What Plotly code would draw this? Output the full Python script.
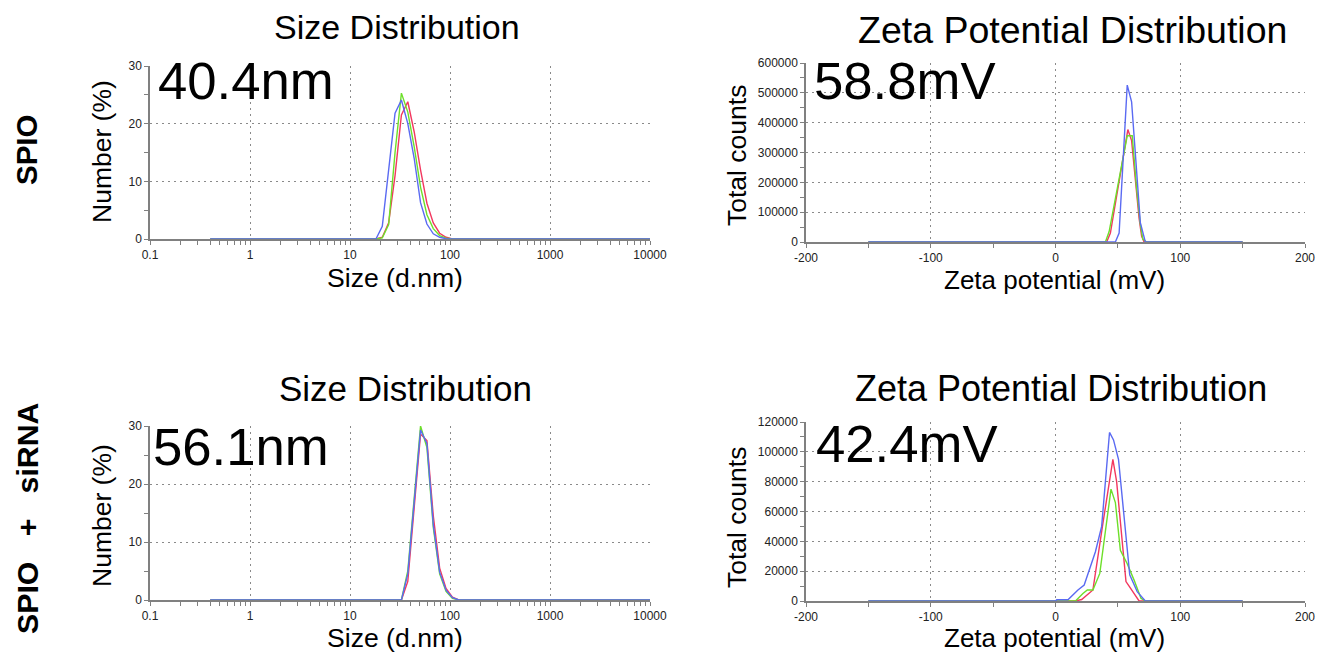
import plotly.graph_objects as go

W, H = 1334, 660
OFF = 8  # page margin offset of the rendered figure

# ---------------- data ----------------
# SPIO size distribution (Number %)
spio_size_bins = [0.4, 15.69, 18.17, 21.04, 24.36, 28.21, 32.67, 37.84, 43.82, 50.75,
                  58.77, 68.06, 78.82, 91.28, 105.7, 122.4, 10000]
spio_size_red = [0, 0, 0, 0.3, 2.8, 11, 21.5, 23.8, 18.6, 12, 6.2, 2.8, 1.0, 0.3, 0, 0, 0]
spio_size_green = [0, 0, 0, 0.2, 2.5, 15, 25.3, 22, 16, 9, 4.2, 1.8, 0.6, 0.15, 0, 0, 0]
spio_size_blue = [0, 0, 0, 2.2, 12, 21.8, 24.1, 20, 14, 6.3, 2.6, 0.9, 0.3, 0.05, 0, 0, 0]

# SPIO + siRNA size distribution (Number %)
sirna_size_bins = [0.4, 28.21, 32.67, 37.84, 43.82, 50.75, 58.77, 68.06, 78.82, 91.28,
                   105.7, 122.4, 10000]
sirna_size_red = [0, 0, 0, 3.2, 16.5, 28.6, 27.5, 14.5, 5.5, 2.0, 0.5, 0, 0]
sirna_size_green = [0, 0, 0, 5.0, 18, 30, 26.3, 12.5, 4.5, 1.5, 0.3, 0, 0]
sirna_size_blue = [0, 0, 0, 4.5, 17.3, 29.3, 27, 13, 4.8, 1.7, 0.4, 0, 0]

# SPIO zeta potential (Total counts)
spio_zeta_red_x = [-150, 41, 44, 58, 61, 64, 67, 69, 71, 150]
spio_zeta_red_y = [0, 0, 30000, 377000, 340000, 200000, 80000, 20000, 0, 0]
spio_zeta_green_x = [-150, 40, 43, 57.5, 61.5, 65, 68, 70, 73, 150]
spio_zeta_green_y = [0, 0, 35000, 356000, 356000, 180000, 60000, 10000, 0, 0]
spio_zeta_blue_x = [-150, 48, 51, 57.5, 61, 68, 72, 150]
spio_zeta_blue_y = [0, 0, 30000, 526000, 470000, 65000, 0, 0]

# SPIO + siRNA zeta potential (Total counts)
sirna_zeta_red_x = [-150, 16, 21, 25, 30, 38, 46, 49, 56.5, 59, 67, 150]
sirna_zeta_red_y = [0, 0, 1000, 4000, 7400, 52000, 95000, 80000, 13000, 10000, 0, 0]
sirna_zeta_green_x = [-150, 0, 16, 22, 25.5, 30, 35.5, 44.5, 48, 52, 57.5, 63, 68.5, 72, 150]
sirna_zeta_green_y = [0, 0, 0, 5000, 7400, 7400, 18500, 75000, 66000, 34000, 25000, 14000, 1800, 0, 0]
sirna_zeta_blue_x = [-150, 0, 1, 10, 18, 23, 32, 37, 43.3, 46.5, 50.5, 55, 59.5, 65.5, 72, 150]
sirna_zeta_blue_y = [0, 0, 800, 800, 7400, 10700, 33000, 50000, 113000, 108000, 95000, 58000,
                     17500, 6300, 0, 0]

size_tickvals = [0.1, 1, 10, 100, 1000, 10000]
size_ticktext = ["0.1", "1", "10", "100", "1000", "10000"]
zeta_tickvals = [-200, -100, 0, 100, 200]
zeta_ticktext = ["-200", "-100", "0", "100", "200"]

row_labels = ["SPIO", "SPIO\u00a0\u00a0\u00a0+\u00a0\u00a0\u00a0siRNA"]
size_labels = ["40.4nm", "56.1nm"]
zeta_labels = ["58.8mV", "42.4mV"]

RED, GREEN, BLUE = "#f2385f", "#6ddf2a", "#5a6af2"
FONT = "Liberation Sans, Arial, sans-serif"

# ---------------- figure ----------------
fig = go.Figure()

def add_set(xs, ys, xa, ya):
    for (x, y), c in zip(zip(xs, ys), [RED, GREEN, BLUE]):
        fig.add_trace(go.Scatter(x=x, y=y, mode="lines", line=dict(color=c, width=1.4),
                                 xaxis=xa, yaxis=ya, showlegend=False, hoverinfo="x+y"))

add_set([spio_size_bins] * 3, [spio_size_red, spio_size_green, spio_size_blue], "x", "y")
add_set([spio_zeta_red_x, spio_zeta_green_x, spio_zeta_blue_x],
        [spio_zeta_red_y, spio_zeta_green_y, spio_zeta_blue_y], "x2", "y2")
add_set([sirna_size_bins] * 3, [sirna_size_red, sirna_size_green, sirna_size_blue], "x3", "y3")
add_set([sirna_zeta_red_x, sirna_zeta_green_x, sirna_zeta_blue_x],
        [sirna_zeta_red_y, sirna_zeta_green_y, sirna_zeta_blue_y], "x4", "y4")

def px(x0, x1):
    return [(x0 - OFF) / W, (x1 - OFF) / W]

def py(top, bottom):
    return [1 - (bottom - OFF) / H, 1 - (top - OFF) / H]

AX = "#808080"
GRID = dict(showgrid=True, gridcolor="#8a8a8a", gridwidth=1.3, griddash="2px,4px")
common = dict(showline=True, linecolor=AX, linewidth=1.5, ticks="outside", ticklen=4,
              tickcolor=AX, tickwidth=1, zeroline=False, mirror=False, automargin=False,
              tickfont=dict(family=FONT, size=12, color="#222"), **GRID)

log_minor = [m * 10.0 ** k for k in range(-1, 4) for m in range(2, 10)]

def size_x(anchor, dom):
    return dict(type="log", range=[-1, 4], tickmode="array", tickvals=size_tickvals,
                ticktext=size_ticktext, domain=dom, anchor=anchor,
                minor=dict(ticks="outside", ticklen=4, tickcolor=AX, tickmode="array",
                           tickvals=log_minor, showgrid=False),
                **common)

def zeta_x(anchor, dom):
    return dict(range=[-200, 200], tickmode="array", tickvals=zeta_tickvals,
                ticktext=zeta_ticktext, domain=dom, anchor=anchor,
                minor=dict(ticks="outside", ticklen=4, tickcolor=AX, dtick=50, showgrid=False),
                **common)

def yax(anchor, dom, rng, dt, minor_dt):
    return dict(range=rng, dtick=dt, domain=dom, anchor=anchor, tickformat="d",
                minor=dict(ticks="outside", ticklen=4, tickcolor=AX, dtick=minor_dt, showgrid=False),
                **common)

fig.update_layout(
    width=W, height=H, margin=dict(l=0, r=0, t=0, b=0, pad=0, autoexpand=False),
    paper_bgcolor="white", plot_bgcolor="white", showlegend=False,
    xaxis=size_x("y", px(150, 650)),
    yaxis=yax("x", py(66, 239), [0, 30], 10, 5),
    xaxis2=zeta_x("y2", px(806, 1305)),
    yaxis2=yax("x2", py(63, 242), [0, 600000], 100000, 50000),
    xaxis3=size_x("y3", px(150, 650)),
    yaxis3=yax("x3", py(426, 600), [0, 30], 10, 5),
    xaxis4=zeta_x("y4", px(806, 1305)),
    yaxis4=yax("x4", py(422, 601), [0, 120000], 20000, 10000),
)

def ann(text, x, y, size, angle=0, bold=False, xanchor="center", pad=1):
    fig.add_annotation(text=f"<b>{text}</b>" if bold else text,
                       x=(x - OFF) / W, y=1 - (y - OFF) / H,
                       xref="paper", yref="paper", showarrow=False, textangle=angle,
                       xanchor=xanchor, yanchor="middle", borderpad=pad,
                       font=dict(family=FONT, size=size, color="black"))

# titles
ann("Size Distribution", 397, 27.5, 34, pad=0)
ann("Zeta Potential Distribution", 1072, 30.5, 37.5, pad=0)
ann("Size Distribution", 405, 388, 35)
ann("Zeta Potential Distribution", 1061, 388, 36)

# axis titles
ann("Size (d.nm)", 395, 278, 26.6)
ann("Size (d.nm)", 395, 638, 26.6)
ann("Zeta potential (mV)", 1054, 280, 26)
ann("Zeta potential (mV)", 1054, 638, 26)
ann("Number (%)", 102, 152, 26.5, angle=-90)
ann("Number (%)", 102, 516, 26.5, angle=-90)
ann("Total counts", 737, 156, 26.5, angle=-90)
ann("Total counts", 737, 518, 26.5, angle=-90)

# row labels
ann(row_labels[0], 27, 150, 29.5, angle=-90, bold=True)
ann(row_labels[1], 27, 518, 30.3, angle=-90, bold=True)

# value labels
ann(size_labels[0], 156, 80, 52.7, xanchor="left")
ann(size_labels[1], 151, 446, 52.7, xanchor="left")
ann(zeta_labels[0], 812, 80, 52.7, xanchor="left")
ann(zeta_labels[1], 814, 443, 52.7, xanchor="left")

fig.write_html("out.html")
